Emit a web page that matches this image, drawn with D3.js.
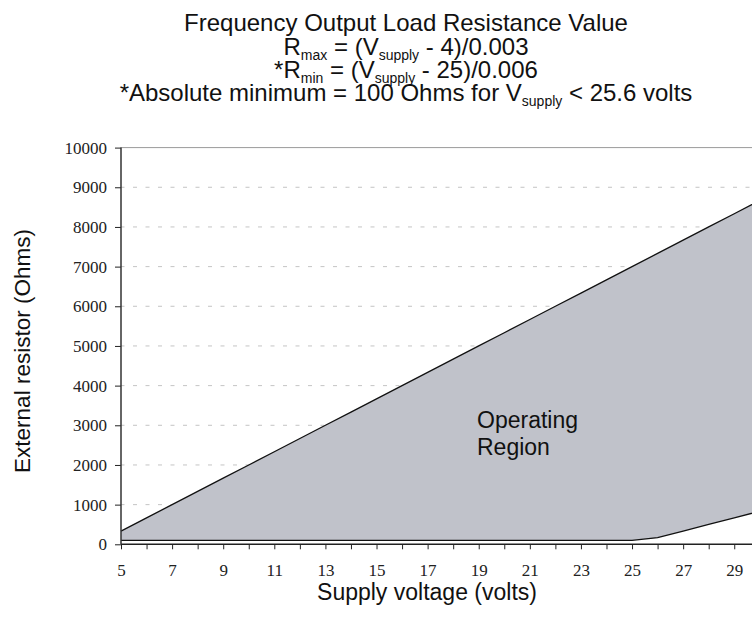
<!DOCTYPE html>
<html>
<head>
<meta charset="utf-8">
<script src="https://cdn.jsdelivr.net/npm/d3@7/dist/d3.min.js"></script>
<style>
  html, body { margin: 0; padding: 0; background: #fff; }
  svg { display: block; }
  .sans { font-family: "Liberation Sans", Arial, Helvetica, sans-serif; fill: #111; }
  .tick text { font-family: "Liberation Serif", "Times New Roman", serif; font-size: 17px; fill: #222; }
</style>
</head>
<body>
<script>
// Supply voltage (volts), one sample per volt
const voltages = [5, 6, 7, 8, 9, 10, 11, 12, 13, 14, 15, 16, 17, 18, 19, 20,
                  21, 22, 23, 24, 25, 26, 27, 28, 29, 30];
// Maximum load resistance (Ohms)
const rMax = [333, 667, 1000, 1333, 1667, 2000, 2333, 2667, 3000, 3333, 3667, 4000, 4333,
              4667, 5000, 5333, 5667, 6000, 6333, 6667, 7000, 7333, 7667, 8000, 8333, 8667];
// Minimum load resistance (Ohms)
const rMin = [100, 100, 100, 100, 100, 100, 100, 100, 100, 100, 100, 100, 100,
              100, 100, 100, 100, 100, 100, 100, 100, 167, 333, 500, 667, 833];
const yTicks = [0, 1000, 2000, 3000, 4000, 5000, 6000, 7000, 8000, 9000, 10000];
const gridValues = [1000, 2000, 3000, 4000, 5000, 6000, 7000, 8000, 9000];

const W = 752, H = 619;
const svg = d3.select("body").append("svg").attr("width", W).attr("height", H);

const x = d3.scaleLinear().domain([5, 30]).range([121, 759.8]);
const y = d3.scaleLinear().domain([0, 10000]).range([544.3, 147.6]);

const rows = voltages.map((v, i) => ({ v, hi: rMax[i], lo: rMin[i] }));

// Dashed horizontal gridlines
svg.append("g").selectAll("line").data(gridValues).join("line")
  .attr("x1", x(5)).attr("x2", W)
  .attr("y1", d => y(d)).attr("y2", d => y(d))
  .attr("stroke", "#c4c4c4").attr("stroke-width", 1)
  .attr("stroke-dasharray", "4,8.5").attr("stroke-dashoffset", -12);

// Top border at 10000
svg.append("line")
  .attr("x1", x(5)).attr("x2", W)
  .attr("y1", y(10000)).attr("y2", y(10000))
  .attr("stroke", "#9a9a9a").attr("stroke-width", 1);

// Operating region between the two limits
svg.append("path").datum(rows)
  .attr("d", d3.area().x(d => x(d.v)).y0(d => y(d.lo)).y1(d => y(d.hi)))
  .attr("fill", "#c0c2ca");

const line = acc => d3.line().x(d => x(d.v)).y(d => y(acc(d)));
svg.append("path").datum(rows).attr("d", line(d => d.hi))
  .attr("fill", "none").attr("stroke", "#111").attr("stroke-width", 1.3);
svg.append("path").datum(rows).attr("d", line(d => d.lo))
  .attr("fill", "none").attr("stroke", "#111").attr("stroke-width", 1.3);

// Axes
const xAxis = d3.axisBottom(x).tickValues(voltages).tickSize(5).tickPadding(15)
  .tickFormat(d => (d % 2 === 1 ? d : ""));
const gx = svg.append("g").attr("transform", `translate(0,${y(0)})`).call(xAxis);
gx.select(".domain").remove();
gx.append("line").attr("x1", x(5)).attr("x2", W).attr("stroke", "#222").attr("stroke-width", 1.5);
gx.selectAll(".tick line").attr("stroke", "#222");

const yAxis = d3.axisLeft(y).tickValues(yTicks).tickSize(6).tickPadding(8).tickFormat(d3.format("d"));
const gy = svg.append("g").attr("transform", `translate(${x(5)},0)`).call(yAxis);
gy.select(".domain").remove();
gy.append("line").attr("y1", y(0)).attr("y2", y(10000)).attr("stroke", "#333").attr("stroke-width", 1.5);
gy.selectAll(".tick line").attr("stroke", "#222");

// Titles
svg.append("text").attr("class", "sans").attr("text-anchor", "middle")
  .attr("x", 406).attr("y", 31).attr("font-size", 24)
  .text("Frequency Output Load Resistance Value");

function formulaLine(yPos, parts) {
  const t = svg.append("text").attr("class", "sans").attr("text-anchor", "middle")
    .attr("x", 406).attr("y", yPos).attr("font-size", 24);
  parts.forEach(p => {
    const s = t.append("tspan").text(p.t);
    if (p.sub) s.attr("font-size", 14).attr("dy", 5);
    if (p.back) s.attr("dy", -5);
  });
}
formulaLine(55, [{ t: "R" }, { t: "max", sub: true }, { t: " = (V", back: true },
                 { t: "supply", sub: true }, { t: " - 4)/0.003", back: true }]);
formulaLine(78, [{ t: "*R" }, { t: "min", sub: true }, { t: " = (V", back: true },
                 { t: "supply", sub: true }, { t: " - 25)/0.006", back: true }]);
formulaLine(101, [{ t: "*Absolute minimum = 100 Ohms for V" }, { t: "supply", sub: true },
                  { t: " < 25.6 volts", back: true }]);

// Region label
const reg = svg.append("text").attr("class", "sans").attr("font-size", 23);
reg.append("tspan").attr("x", 477).attr("y", 428).text("Operating");
reg.append("tspan").attr("x", 477).attr("y", 455).text("Region");

// Axis titles
svg.append("text").attr("class", "sans").attr("font-size", 23).attr("text-anchor", "middle")
  .attr("x", 427).attr("y", 600).text("Supply voltage (volts)");
svg.append("text").attr("class", "sans").attr("font-size", 22.5).attr("text-anchor", "middle")
  .attr("transform", `translate(30,351) rotate(-90)`).text("External resistor (Ohms)");
</script>
</body>
</html>
